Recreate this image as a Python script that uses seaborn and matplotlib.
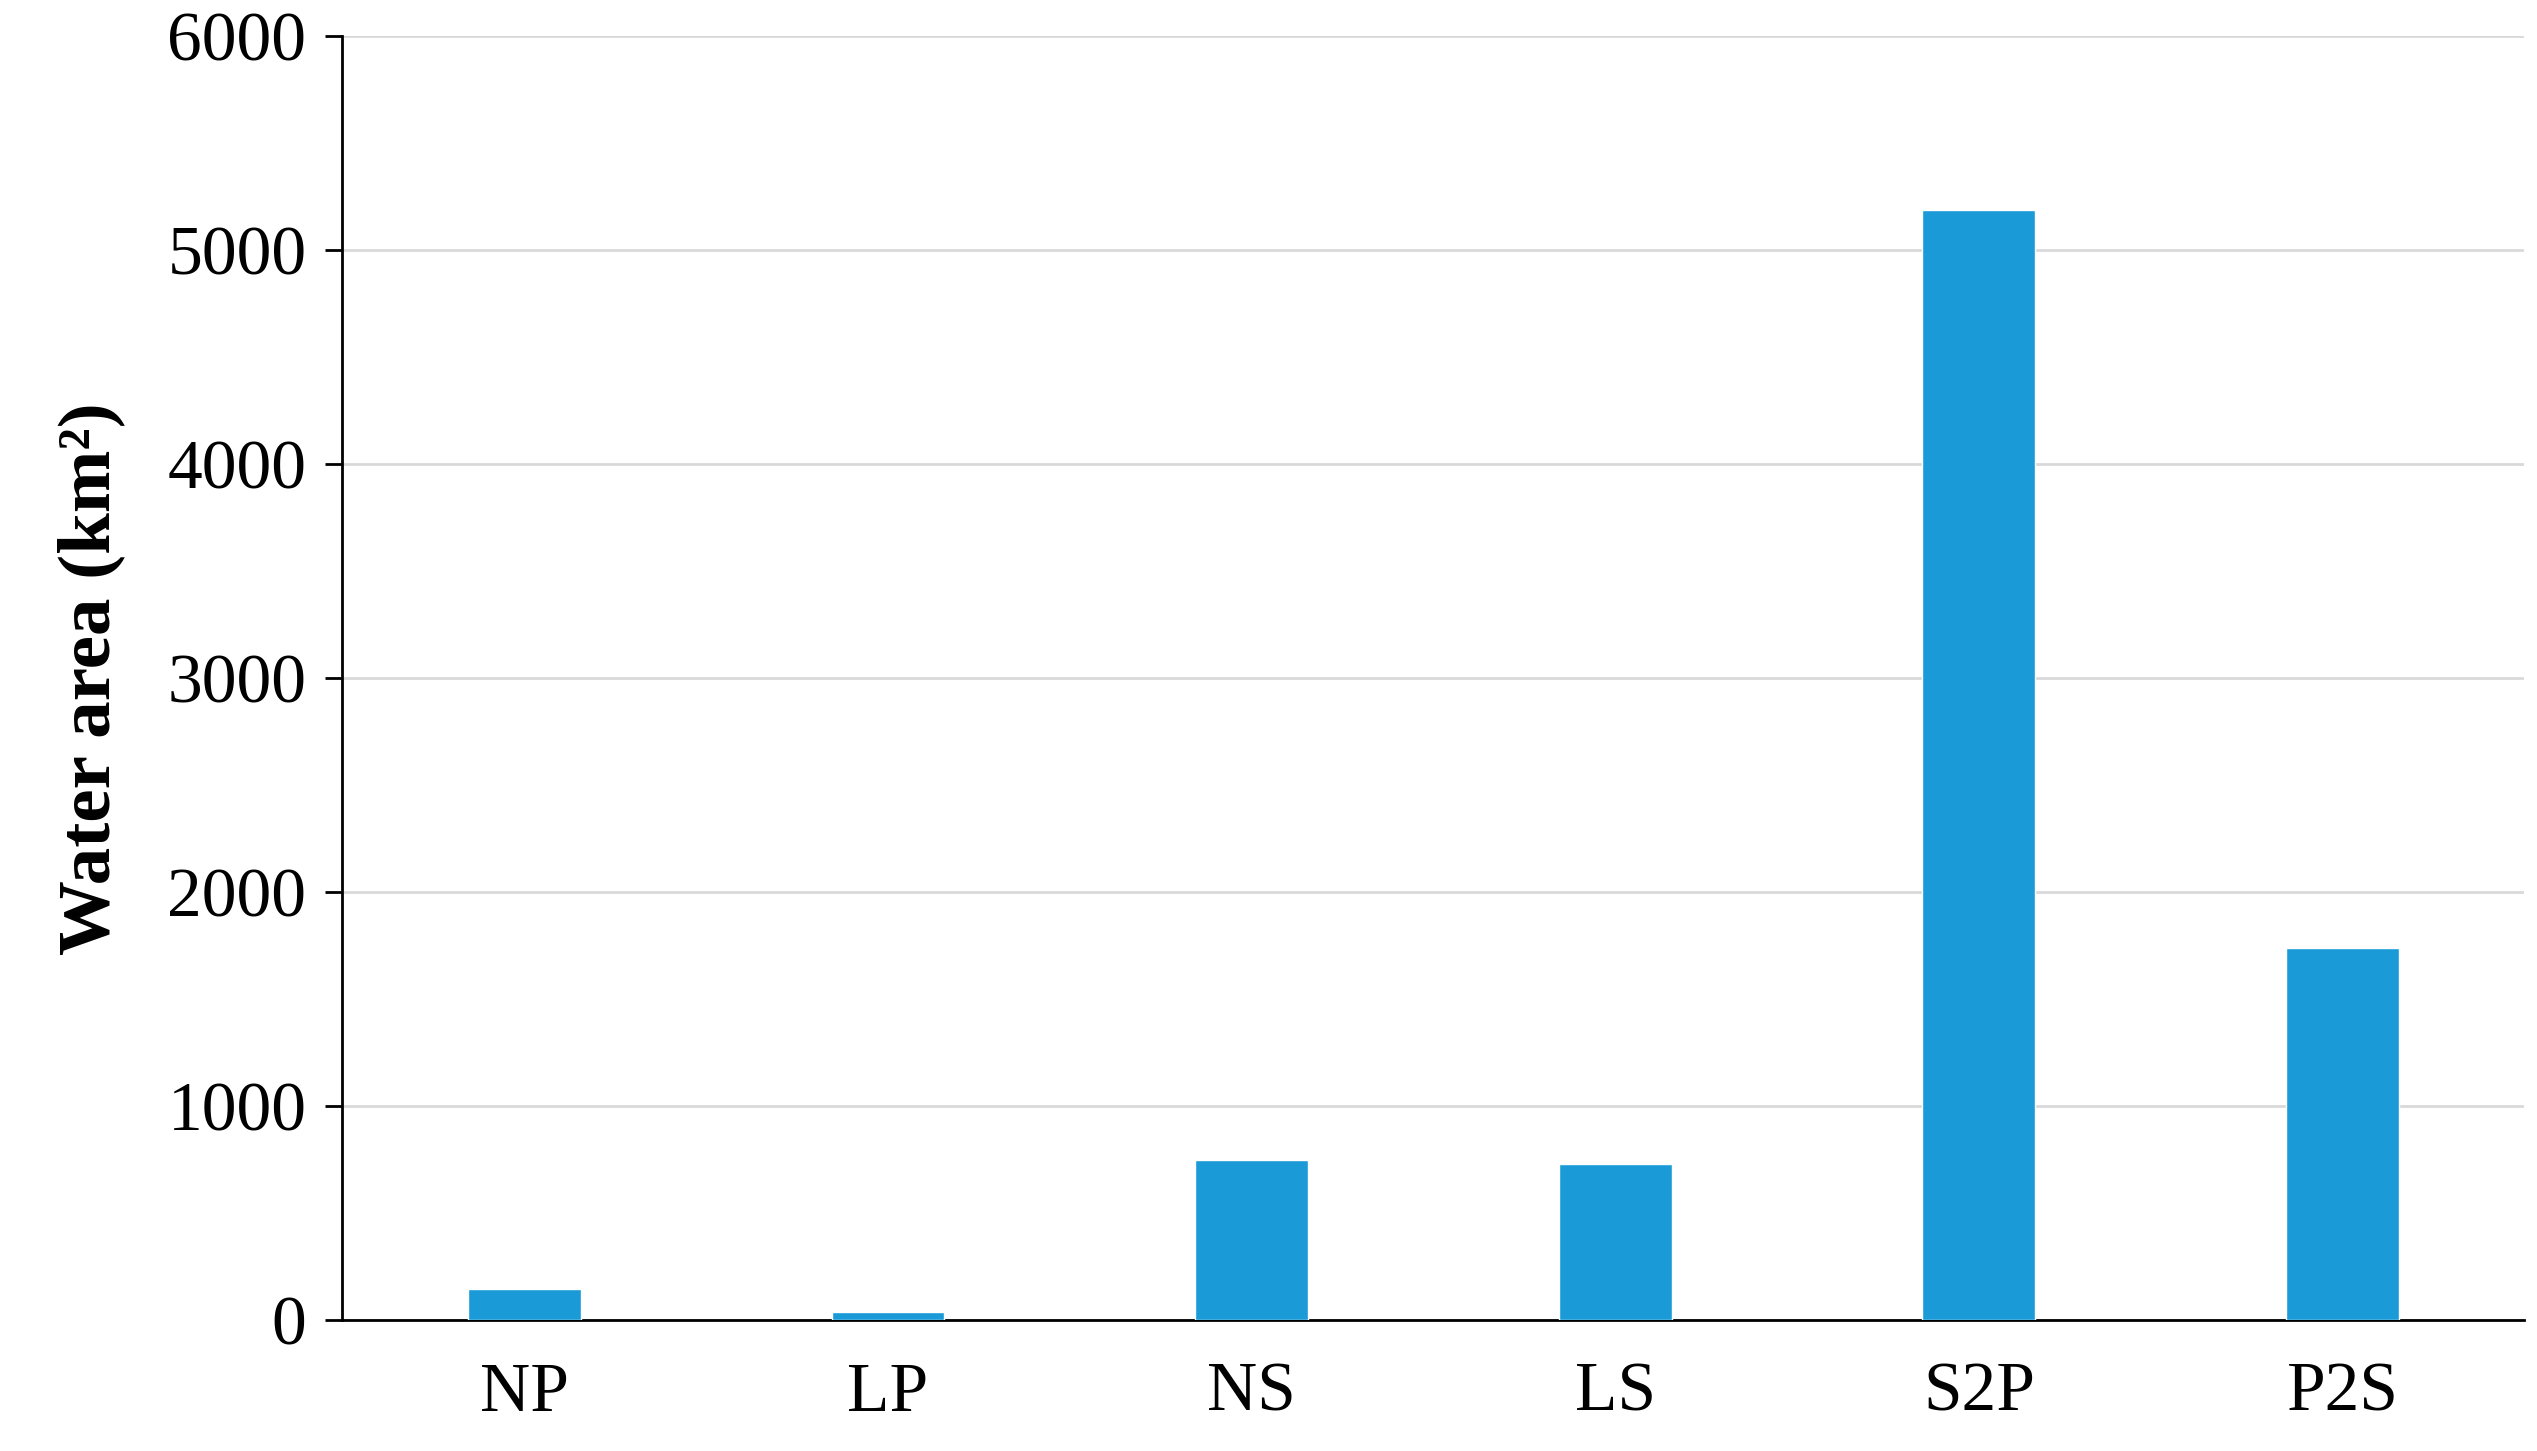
import matplotlib
matplotlib.use("Agg")
import matplotlib.pyplot as plt
import seaborn as sns
import pandas as pd

categories = ["NP", "LP", "NS", "LS", "S2P", "P2S"]
water_area = [145, 40, 750, 730, 5190, 1740]

sns.set_style("white")
plt.rcParams["font.family"] = ["Liberation Serif", "DejaVu Serif"]
plt.rcParams["text.color"] = "black"
plt.rcParams["xtick.color"] = "black"
plt.rcParams["ytick.color"] = "black"
plt.rcParams["axes.labelcolor"] = "black"

df = pd.DataFrame({"cat": categories, "area": water_area})

fig = plt.figure(figsize=(25.37, 14.51), dpi=100)
ax = fig.add_axes([0.135, 0.09, 0.86, 0.885])
sns.barplot(data=df, x="cat", y="area", color="#1a9bd7", saturation=1,
            width=0.31, ax=ax, zorder=3)

ax.set_ylim(0, 6000)
ax.set_yticks(range(0, 6001, 1000))
ax.yaxis.grid(True, color="#d9d9d9", linewidth=2, zorder=0)
ax.set_axisbelow(True)
for s in ["top", "right"]:
    ax.spines[s].set_visible(False)
for s in ["left", "bottom"]:
    ax.spines[s].set_color("black")
    ax.spines[s].set_linewidth(2)
ax.tick_params(axis="y", length=12, width=2, direction="out", labelsize=50, left=True, pad=14)
ax.tick_params(axis="x", length=0, labelsize=50, pad=30)
ax.set_xlabel("")
ax.set_ylabel("Water area (km²)", fontsize=54, fontweight="bold", labelpad=30)

fig.savefig("out.png", dpi=100)
